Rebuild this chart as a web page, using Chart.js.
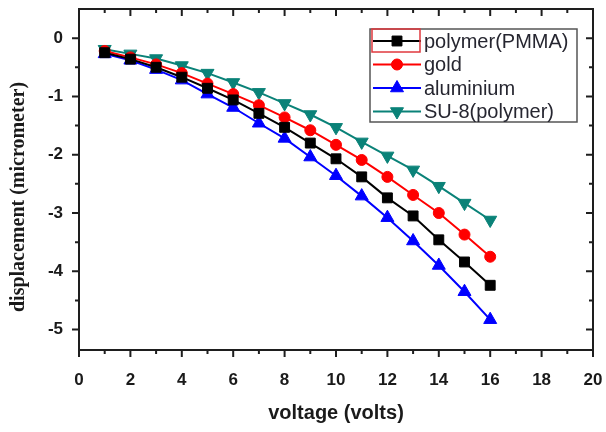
<!DOCTYPE html>
<html>
<head>
<meta charset="utf-8">
<script src="https://cdn.jsdelivr.net/npm/chart.js@4"></script>
<style>
  html, body { margin: 0; padding: 0; background: #fff; }
  #wrap { width: 606px; height: 432px; }
</style>
</head>
<body>
<div id="wrap"><canvas id="chart" width="606" height="432"></canvas></div>
<script>
// voltage (volts)
const voltages = [1, 2, 3, 4, 5, 6, 7, 8, 9, 10, 11, 12, 13, 14, 15, 16];

// displacement (micrometer)
const pmma      = [-0.25, -0.36, -0.50, -0.67, -0.86, -1.06, -1.29, -1.53, -1.80, -2.07, -2.38, -2.74, -3.05, -3.46, -3.84, -4.24];
const gold      = [-0.22, -0.33, -0.45, -0.60, -0.78, -0.96, -1.15, -1.36, -1.58, -1.83, -2.09, -2.38, -2.69, -3.00, -3.37, -3.75];
const aluminium = [-0.27, -0.38, -0.54, -0.72, -0.96, -1.19, -1.46, -1.72, -2.04, -2.36, -2.71, -3.08, -3.48, -3.90, -4.35, -4.83];
const su8       = [-0.19, -0.27, -0.35, -0.47, -0.60, -0.76, -0.93, -1.12, -1.31, -1.53, -1.78, -2.02, -2.26, -2.54, -2.83, -3.12];

const seriesLabels = ["polymer(PMMA)", "gold", "aluminium", "SU-8(polymer)"];
const xTickLabels = [0, 2, 4, 6, 8, 10, 12, 14, 16, 18, 20];
const yTickLabels = [0, -1, -2, -3, -4, -5];

const AXIS = "#1e1e1e";

function pts(vals) {
  return vals.map((v, i) => ({ x: voltages[i], y: v }));
}

function series(label, data, color, style, radius, rotation) {
  return {
    label, data: pts(data),
    borderColor: color, backgroundColor: color,
    pointBackgroundColor: color, pointBorderColor: color,
    pointStyle: style, pointRadius: radius, pointRotation: rotation || 0,
    pointBorderWidth: 1, borderWidth: 2, tension: 0,
  };
}

// keep the plot box where the reference has it: no extra room for edge labels
function noEdgePadding(s) {
  s.paddingTop = 0; s.paddingBottom = 0; s.paddingLeft = 0; s.paddingRight = 0;
}

// Origin-style frame: outward ticks on left/bottom, inward on top/right,
// minor ticks between the labelled ones.
const frameTicks = {
  id: "frameTicks",
  afterDraw(chart) {
    const { ctx, chartArea: a, scales: { x, y } } = chart;
    ctx.save();
    ctx.strokeStyle = AXIS;
    ctx.lineWidth = 2;
    ctx.strokeRect(a.left, a.top, a.right - a.left, a.bottom - a.top);
    ctx.beginPath();
    for (let v = 0; v <= 20; v += 1) {
      const px = x.getPixelForValue(v);
      const len = v % 2 === 0 ? 7 : 4;
      ctx.moveTo(px, a.bottom); ctx.lineTo(px, a.bottom + len);
      ctx.moveTo(px, a.top);    ctx.lineTo(px, a.top + len);
    }
    for (let v = 0; v >= -5; v -= 0.5) {
      const py = y.getPixelForValue(v);
      const len = Number.isInteger(v) ? 7 : 4;
      ctx.moveTo(a.left, py);  ctx.lineTo(a.left - len, py);
      ctx.moveTo(a.right, py); ctx.lineTo(a.right - len, py);
    }
    ctx.stroke();

    // axis titles
    ctx.fillStyle = "#1a1a1a";
    ctx.textAlign = "center";
    ctx.textBaseline = "middle";
    ctx.font = "bold 20px 'Liberation Sans', Arial, sans-serif";
    ctx.fillText("voltage (volts)", (a.left + a.right) / 2, 413);
    ctx.translate(19, 197);
    ctx.rotate(-Math.PI / 2);
    ctx.font = "bold 20px 'Liberation Serif', 'Times New Roman', serif";
    ctx.fillText("displacement (micrometer)", 0, 0);
    ctx.restore();
  },
};

// legend box in the upper right of the plot
const boxLegend = {
  id: "boxLegend",
  afterDraw(chart) {
    const { ctx } = chart;
    const left = 370, top = 29, width = 207, height = 93, row = 23.5;
    ctx.save();
    ctx.fillStyle = "#fff";
    ctx.fillRect(left, top, width, height);
    ctx.strokeStyle = "#555";
    ctx.lineWidth = 1.5;
    ctx.strokeRect(left, top, width, height);
    ctx.font = "20px 'Liberation Sans', Arial, sans-serif";
    ctx.textBaseline = "middle";
    ctx.textAlign = "left";
    chart.data.datasets.forEach((ds, i) => {
      const cy = top + 12 + i * row;
      ctx.strokeStyle = ds.borderColor;
      ctx.lineWidth = 2;
      ctx.beginPath();
      ctx.moveTo(left + 3, cy); ctx.lineTo(left + 51, cy);
      ctx.stroke();
      ctx.fillStyle = ds.pointBackgroundColor;
      ctx.strokeStyle = ds.pointBorderColor;
      ctx.lineWidth = 1;
      Chart.helpers.drawPoint(ctx, {
        pointStyle: ds.pointStyle, radius: ds.pointRadius,
        rotation: ds.pointRotation, borderWidth: 1,
      }, left + 27, cy);
      ctx.fillStyle = "#262630";
      ctx.fillText(ds.label, left + 54, cy + 1);
    });
    // red selection box around the first sample
    ctx.strokeStyle = "#e0393e";
    ctx.lineWidth = 1.5;
    ctx.strokeRect(left + 2, top, 48, 23);
    ctx.restore();
  },
};

new Chart(document.getElementById("chart"), {
  type: "line",
  data: {
    datasets: [
      series(seriesLabels[0], pmma, "#000000", "rect", 7),
      series(seriesLabels[1], gold, "#ff0000", "circle", 5.5),
      series(seriesLabels[2], aluminium, "#0000ff", "triangle", 7.5),
      series(seriesLabels[3], su8, "#0a8278", "triangle", 7.5, 180),
    ],
  },
  options: {
    responsive: false,
    animation: false,
    layout: { padding: { top: 9, right: 13, left: 0, bottom: 0 } },
    plugins: { legend: { display: false }, tooltip: { enabled: false } },
    scales: {
      x: {
        type: "linear", min: 0, max: 20,
        afterFit: (s) => { s.height = 82; noEdgePadding(s); },
        grid: { display: false, drawTicks: false },
        border: { display: false },
        afterBuildTicks: (s) => { s.ticks = xTickLabels.map(v => ({ value: v })); },
        ticks: { color: "#1a1a1a", font: { family: "'Liberation Sans', Arial, sans-serif", size: 17, weight: "bold" }, padding: 20, maxRotation: 0 },
      },
      y: {
        type: "linear", min: -5.35, max: 0.5,
        afterFit: (s) => { s.width = 79; noEdgePadding(s); },
        grid: { display: false, drawTicks: false },
        border: { display: false },
        afterBuildTicks: (s) => { s.ticks = yTickLabels.map(v => ({ value: v })); },
        ticks: { color: "#1a1a1a", font: { family: "'Liberation Sans', Arial, sans-serif", size: 17, weight: "bold" }, padding: 16 },
      },
    },
  },
  plugins: [frameTicks, boxLegend],
});
</script>
</body>
</html>
